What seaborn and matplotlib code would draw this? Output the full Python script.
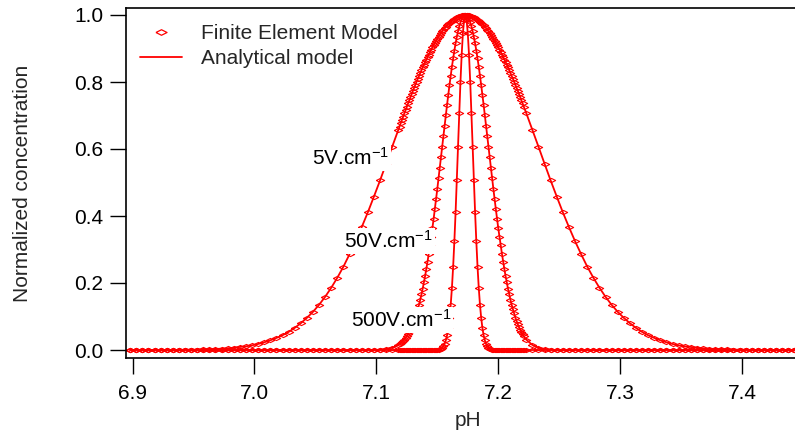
import matplotlib
matplotlib.use("Agg")
import matplotlib.pyplot as plt
from matplotlib.lines import Line2D
import seaborn as sns

# ---------------------------------------------------------------------------
# Focused peak profiles (normalized concentration vs pH) for three field
# strengths, sampled on the finite-element mesh: coarse 0.005 pH spacing on
# the flanks, refined 0.001 pH spacing around the focusing point.
# ---------------------------------------------------------------------------

ph_mesh = [
    # coarse, left flank
    6.898, 6.903, 6.908, 6.913, 6.918, 6.923, 6.928, 6.933, 6.938, 6.943,
    6.948, 6.953, 6.958, 6.963, 6.968, 6.973, 6.978, 6.983, 6.988, 6.993,
    6.998, 7.003, 7.008, 7.013, 7.018, 7.023, 7.028, 7.033, 7.038, 7.043,
    7.048, 7.053, 7.058, 7.063, 7.068, 7.073, 7.078, 7.083, 7.088, 7.093,
    7.098, 7.103, 7.108, 7.113,
    # refined, around the peak
    7.118, 7.119, 7.120, 7.121, 7.122, 7.123, 7.124, 7.125, 7.126, 7.127,
    7.128, 7.129, 7.130, 7.131, 7.132, 7.133, 7.134, 7.135, 7.136, 7.137,
    7.138, 7.139, 7.140, 7.141, 7.142, 7.143, 7.144, 7.145, 7.146, 7.147,
    7.148, 7.149, 7.150, 7.151, 7.152, 7.153, 7.154, 7.155, 7.156, 7.157,
    7.158, 7.159, 7.160, 7.161, 7.162, 7.163, 7.164, 7.165, 7.166, 7.167,
    7.168, 7.169, 7.170, 7.171, 7.172, 7.173, 7.174, 7.175, 7.176, 7.177,
    7.178, 7.179, 7.180, 7.181, 7.182, 7.183, 7.184, 7.185, 7.186, 7.187,
    7.188, 7.189, 7.190, 7.191, 7.192, 7.193, 7.194, 7.195, 7.196, 7.197,
    7.198, 7.199, 7.200, 7.201, 7.202, 7.203, 7.204, 7.205, 7.206, 7.207,
    7.208, 7.209, 7.210, 7.211, 7.212, 7.213, 7.214, 7.215, 7.216, 7.217,
    7.218, 7.219, 7.220, 7.221,
    # coarse, right flank
    7.223, 7.228, 7.233, 7.238, 7.243,
    7.248, 7.253, 7.258, 7.263, 7.268, 7.273, 7.278, 7.283, 7.288, 7.293,
    7.298, 7.303, 7.308, 7.313, 7.318, 7.323, 7.328, 7.333, 7.338, 7.343,
    7.348, 7.353, 7.358, 7.363, 7.368, 7.373, 7.378, 7.383, 7.388, 7.393,
    7.398, 7.403, 7.408, 7.413, 7.418, 7.423, 7.428, 7.433, 7.438, 7.443,
]

conc_5v = [
    0.000, 0.000, 0.000, 0.000, 0.000, 0.000, 0.000, 0.000, 0.000, 0.001,
    0.001, 0.001, 0.002, 0.002, 0.003, 0.004, 0.005, 0.007, 0.009, 0.011,
    0.014, 0.018, 0.023, 0.029, 0.036, 0.044, 0.054, 0.066, 0.080, 0.096,
    0.114, 0.135, 0.159, 0.186, 0.216, 0.249, 0.286, 0.325, 0.367, 0.411,
    0.458, 0.506, 0.556, 0.607,
    0.657, 0.667, 0.677, 0.687, 0.697, 0.707, 0.716, 0.726, 0.736, 0.745,
    0.755, 0.764, 0.774, 0.783, 0.792, 0.801, 0.810, 0.818, 0.827, 0.835,
    0.844, 0.852, 0.860, 0.867, 0.875, 0.882, 0.890, 0.897, 0.904, 0.910,
    0.917, 0.923, 0.929, 0.935, 0.941, 0.946, 0.951, 0.956, 0.961, 0.965,
    0.969, 0.973, 0.977, 0.980, 0.983, 0.986, 0.989, 0.991, 0.993, 0.995,
    0.997, 0.998, 0.999, 0.999, 1.000, 1.000, 1.000, 0.999, 0.999, 0.998,
    0.997, 0.995, 0.993, 0.991, 0.989, 0.986, 0.983, 0.980, 0.977, 0.973,
    0.969, 0.965, 0.961, 0.956, 0.951, 0.946, 0.941, 0.935, 0.929, 0.923,
    0.917, 0.910, 0.904, 0.897, 0.890, 0.882, 0.875, 0.867, 0.860, 0.852,
    0.844, 0.835, 0.827, 0.818, 0.810, 0.801, 0.792, 0.783, 0.774, 0.764,
    0.755, 0.745, 0.736, 0.726,
    0.707, 0.657, 0.607, 0.556, 0.506,
    0.458, 0.411, 0.367, 0.325, 0.286, 0.249, 0.216, 0.186, 0.159, 0.135,
    0.114, 0.096, 0.080, 0.066, 0.054, 0.044, 0.036, 0.029, 0.023, 0.018,
    0.014, 0.011, 0.009, 0.007, 0.005, 0.004, 0.003, 0.002, 0.002, 0.001,
    0.001, 0.001, 0.000, 0.000, 0.000, 0.000, 0.000, 0.000, 0.000, 0.000,
]

conc_50v = [
    0.000, 0.000, 0.000, 0.000, 0.000, 0.000, 0.000, 0.000, 0.000, 0.000,
    0.000, 0.000, 0.000, 0.000, 0.000, 0.000, 0.000, 0.000, 0.000, 0.000,
    0.000, 0.000, 0.000, 0.000, 0.000, 0.000, 0.000, 0.000, 0.000, 0.000,
    0.000, 0.000, 0.000, 0.000, 0.000, 0.000, 0.000, 0.000, 0.000, 0.000,
    0.000, 0.001, 0.003, 0.007,
    0.015, 0.018, 0.020, 0.024, 0.027, 0.031, 0.036, 0.041, 0.047, 0.053,
    0.061, 0.068, 0.077, 0.087, 0.097, 0.109, 0.122, 0.135, 0.150, 0.166,
    0.183, 0.202, 0.221, 0.242, 0.264, 0.288, 0.312, 0.338, 0.364, 0.392,
    0.421, 0.450, 0.481, 0.512, 0.543, 0.575, 0.607, 0.638, 0.670, 0.701,
    0.732, 0.762, 0.791, 0.819, 0.846, 0.871, 0.894, 0.915, 0.934, 0.951,
    0.966, 0.978, 0.988, 0.994, 0.999, 1.000, 0.999, 0.994, 0.988, 0.978,
    0.966, 0.951, 0.934, 0.915, 0.894, 0.871, 0.846, 0.819, 0.791, 0.762,
    0.732, 0.701, 0.670, 0.638, 0.607, 0.575, 0.543, 0.512, 0.481, 0.450,
    0.421, 0.392, 0.364, 0.338, 0.312, 0.288, 0.264, 0.242, 0.221, 0.202,
    0.183, 0.166, 0.150, 0.135, 0.122, 0.109, 0.097, 0.087, 0.077, 0.068,
    0.061, 0.053, 0.047, 0.041,
    0.031, 0.015, 0.007, 0.003, 0.001,
    0.000, 0.000, 0.000, 0.000, 0.000, 0.000, 0.000, 0.000, 0.000, 0.000,
    0.000, 0.000, 0.000, 0.000, 0.000, 0.000, 0.000, 0.000, 0.000, 0.000,
    0.000, 0.000, 0.000, 0.000, 0.000, 0.000, 0.000, 0.000, 0.000, 0.000,
    0.000, 0.000, 0.000, 0.000, 0.000, 0.000, 0.000, 0.000, 0.000, 0.000,
]

conc_500v = [
    0.000, 0.000, 0.000, 0.000, 0.000, 0.000, 0.000, 0.000, 0.000, 0.000,
    0.000, 0.000, 0.000, 0.000, 0.000, 0.000, 0.000, 0.000, 0.000, 0.000,
    0.000, 0.000, 0.000, 0.000, 0.000, 0.000, 0.000, 0.000, 0.000, 0.000,
    0.000, 0.000, 0.000, 0.000, 0.000, 0.000, 0.000, 0.000, 0.000, 0.000,
    0.000, 0.000, 0.000, 0.000,
    0.000, 0.000, 0.000, 0.000, 0.000, 0.000, 0.000, 0.000, 0.000, 0.000,
    0.000, 0.000, 0.000, 0.000, 0.000, 0.000, 0.000, 0.000, 0.000, 0.000,
    0.000, 0.000, 0.000, 0.000, 0.000, 0.000, 0.000, 0.000, 0.000, 0.000,
    0.000, 0.000, 0.001, 0.001, 0.002, 0.004, 0.007, 0.011, 0.018, 0.029,
    0.044, 0.066, 0.096, 0.135, 0.186, 0.249, 0.325, 0.411, 0.506, 0.607,
    0.707, 0.801, 0.882, 0.946, 0.986, 1.000, 0.986, 0.946, 0.882, 0.801,
    0.707, 0.607, 0.506, 0.411, 0.325, 0.249, 0.186, 0.135, 0.096, 0.066,
    0.044, 0.029, 0.018, 0.011, 0.007, 0.004, 0.002, 0.001, 0.001, 0.000,
    0.000, 0.000, 0.000, 0.000, 0.000, 0.000, 0.000, 0.000, 0.000, 0.000,
    0.000, 0.000, 0.000, 0.000, 0.000, 0.000, 0.000, 0.000, 0.000, 0.000,
    0.000, 0.000, 0.000, 0.000,
    0.000, 0.000, 0.000, 0.000, 0.000,
    0.000, 0.000, 0.000, 0.000, 0.000, 0.000, 0.000, 0.000, 0.000, 0.000,
    0.000, 0.000, 0.000, 0.000, 0.000, 0.000, 0.000, 0.000, 0.000, 0.000,
    0.000, 0.000, 0.000, 0.000, 0.000, 0.000, 0.000, 0.000, 0.000, 0.000,
    0.000, 0.000, 0.000, 0.000, 0.000, 0.000, 0.000, 0.000, 0.000, 0.000,
]

field_labels = ["5V.cm$^{-1}$", "50V.cm$^{-1}$", "500V.cm$^{-1}$"]
label_ph = [7.1106, 7.1467, 7.1615]     # right edge of each annotation
label_conc = [0.552, 0.304, 0.070]      # baseline of each annotation

x_ticks = [6.9, 7.0, 7.1, 7.2, 7.3, 7.4]
y_ticks = [0.0, 0.2, 0.4, 0.6, 0.8, 1.0]
legend_labels = ["Finite Element Model", "Analytical model"]

# ---------------------------------------------------------------------------
sns.set_style("ticks")
plt.rcParams["font.family"] = ["Liberation Sans", "DejaVu Sans"]
plt.rcParams["mathtext.fontset"] = "custom"
plt.rcParams["mathtext.rm"] = "Liberation Sans"
plt.rcParams["mathtext.it"] = "Liberation Sans:italic"
plt.rcParams["mathtext.bf"] = "Liberation Sans:bold"

RED = "#ff0000"
FS = 15
W, H = 795, 437
fig = plt.figure(figsize=(W / 100, H / 100), dpi=100)
ax = fig.add_axes([126 / W, 1 - 358 / H, (W - 126) / W, 350 / H])

# flat open diamond used for the finite-element nodes
diamond = [(-1, 0), (0, 0.5), (1, 0), (0, -0.5), (-1, 0)]

for conc in [conc_5v, conc_50v, conc_500v]:
    sns.lineplot(x=ph_mesh, y=conc, ax=ax, estimator=None, sort=False,
                 linestyle="none", marker=diamond, markersize=6,
                 markerfacecolor="none", markeredgecolor=RED,
                 markeredgewidth=0.8, zorder=2)
    sns.lineplot(x=ph_mesh, y=conc, ax=ax, estimator=None, sort=False,
                 color=RED, linewidth=1.3, zorder=3)

for txt, px, py in zip(field_labels, label_ph, label_conc):
    ax.text(px, py, txt, ha="right", va="baseline", fontsize=FS, color="black",
            bbox=dict(facecolor="white", edgecolor="none", pad=1.5), zorder=5)

ax.set_xlim(6.89458, 7.44348)
ax.set_ylim(-8 / 335, 1 + 7 / 335)
ax.set_xticks(x_ticks)
ax.set_xticklabels([f"{v:.1f}" for v in x_ticks])
ax.set_yticks(y_ticks)
ax.set_yticklabels([f"{v:.1f}" for v in y_ticks])
ax.tick_params(direction="out", length=11.5, width=1.0, pad=5,
               labelsize=FS, colors="black")
ax.tick_params(axis="x", pad=7)

for side in ["left", "bottom", "top"]:
    ax.spines[side].set_visible(True)
    ax.spines[side].set_color("black")
    ax.spines[side].set_linewidth(1.2)
ax.spines["right"].set_visible(False)

ax.set_xlabel("pH", fontsize=FS)
ax.xaxis.label.set_va("center")
ax.xaxis.set_label_coords((468 - 126) / 669, (358 - 420) / 350)
ax.set_ylabel("Normalized concentration", fontsize=FS)
ax.yaxis.label.set_va("center")
ax.yaxis.set_label_coords((23 - 126) / 669, 0.5)

handles = [
    Line2D([], [], linestyle="none", marker=diamond, markersize=8,
           markerfacecolor="none", markeredgecolor=RED, markeredgewidth=0.9),
    Line2D([], [], color=RED, linewidth=1.3),
]
ax.legend(handles, legend_labels, loc="upper left",
          bbox_to_anchor=(140 / W, 1 - 24 / H), bbox_transform=fig.transFigure,
          frameon=False, borderpad=0, borderaxespad=0, handlelength=2.0,
          handletextpad=0.95, labelspacing=0.31, fontsize=FS)

fig.savefig("out.png", dpi=100)
